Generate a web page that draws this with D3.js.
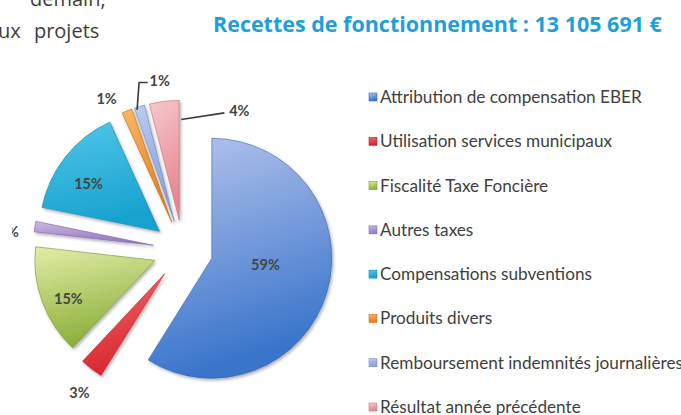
<!DOCTYPE html>
<html>
<head>
<meta charset="utf-8">
<script src="https://cdn.jsdelivr.net/npm/d3@7"></script>
<style>
  html, body { margin: 0; padding: 0; background: #fff; }
  svg { display: block; }
</style>
</head>
<body>
<div id="chart"></div>
<script>
// Chart data
const categories = [
  'Attribution de compensation EBER',
  'Utilisation services municipaux',
  'Fiscalité Taxe Foncière',
  'Autres taxes',
  'Compensations subventions',
  'Produits divers',
  'Remboursement indemnités journalières',
  'Résultat année précédente'
];
const shares = [58.9, 3.1, 14.8, 1.4, 15.0, 1.4, 1.4, 4.0];
const labels = ['59%', '3%', '15%', '1%', '15%', '1%', '1%', '4%'];
const title = 'Recettes de fonctionnement : 13 105 691 €';

// gradient stops per slice (top, bottom)
const colorsTop = ['#b6c5ec', '#f26a6c', '#e2eca8', '#cdb9e4', '#52c6e8', '#f8b866', '#bccbee', '#f7c8cb'];
const colorsBottom = ['#3874cb', '#d9262e', '#8ab038', '#9677c2', '#17a2cf', '#e27e20', '#869fda', '#e68690'];

const width = 681;
const height = 415;
const center = { x: 183, y: 250 };
const radius = 120;
const explode = 30;

// where each label sits, relative to its exploded slice: angle shift (deg) and radius factor
const labelPlace = [
  { da: -9, k: 0.45 },
  { da: -2, k: 1.22 },
  { da: -4, k: 0.79 },
  { da: -3.7, k: 1.21 },
  { da: -5, k: 0.71 },
  { da: -6, k: 1.16 },
  { da: 11, k: 1.18 },
  { da: 36, k: 1.04 }
];

const svg = d3.select('#chart')
  .append('svg')
  .attr('width', width)
  .attr('height', height);

const defs = svg.append('defs');

categories.forEach((c, i) => {
  const g = defs.append('linearGradient')
    .attr('id', `grad${i}`)
    .attr('x1', 0).attr('y1', 0).attr('x2', 0.25).attr('y2', 1);
  g.append('stop').attr('offset', '0%').attr('stop-color', colorsTop[i]);
  g.append('stop').attr('offset', '100%').attr('stop-color', colorsBottom[i]);
});

const shadow = defs.append('filter')
  .attr('id', 'shadow')
  .attr('x', '-20%').attr('y', '-20%')
  .attr('width', '140%').attr('height', '140%');
shadow.append('feDropShadow')
  .attr('dx', 1.5).attr('dy', 2)
  .attr('stdDeviation', 1.8)
  .attr('flood-color', '#000')
  .attr('flood-opacity', 0.3);

// the chart picture was cropped on its left side in the document
defs.append('clipPath').attr('id', 'crop')
  .append('rect')
  .attr('x', 12).attr('y', 50)
  .attr('width', 350).attr('height', height - 50);

// Page text around the chart
svg.append('text')
  .attr('x', 30).attr('y', 6)
  .attr('font-family', 'Open Sans, sans-serif')
  .attr('font-size', 20)
  .attr('fill', '#3d3d3d')
  .text('demain,');

svg.append('text')
  .attr('x', -2).attr('y', 38)
  .attr('font-family', 'Open Sans, sans-serif')
  .attr('font-size', 20)
  .attr('fill', '#3d3d3d')
  .attr('word-spacing', 8)
  .text('ux projets');

const titleText = svg.append('text')
  .attr('x', 213).attr('y', 32)
  .attr('font-family', 'Open Sans, sans-serif')
  .attr('font-weight', 700)
  .attr('font-size', 17)
  .attr('fill', '#1d9fdb')
  .text(title);
// fit the title to the width it has in the document
const titleWidth = titleText.node().getComputedTextLength();
titleText.attr('font-size', 17 * 449 / titleWidth);

// ==== Pie ====
const pie = d3.pie().sort(null).value(d => d);
const arcs = pie(shares);

const arc = d3.arc()
  .innerRadius(0)
  .outerRadius(radius);

const offset = d => {
  const mid = (d.startAngle + d.endAngle) / 2;
  return [explode * Math.sin(mid), -explode * Math.cos(mid)];
};

const polar = (a, r) => [r * Math.sin(a), -r * Math.cos(a)];

const chart = svg.append('g')
  .attr('clip-path', 'url(#crop)')
  .append('g')
  .attr('transform', `translate(${center.x},${center.y})`);

const slices = chart.selectAll('g.slice')
  .data(arcs)
  .join('g')
  .attr('class', 'slice')
  .attr('transform', d => `translate(${offset(d)})`);

slices.append('path')
  .attr('d', arc)
  .attr('fill', (d, i) => `url(#grad${i})`)
  .attr('stroke', (d, i) => d3.color(colorsBottom[i]).darker(0.6))
  .attr('stroke-opacity', 0.55)
  .attr('stroke-width', 1)
  .attr('filter', 'url(#shadow)');

// label positions
const labelPos = (d, i) => {
  const mid = (d.startAngle + d.endAngle) / 2 + labelPlace[i].da * Math.PI / 180;
  const [ox, oy] = offset(d);
  const [px, py] = polar(mid, radius * labelPlace[i].k);
  return [ox + px, oy + py];
};

// leader lines for the two small slices on top
const leaders = [
  {
    i: 6, points: d => {
      const [ox, oy] = offset(d);
      const a = d.startAngle + 0.2 * (d.endAngle - d.startAngle);
      const [sx, sy] = polar(a, radius * 0.98);
      const [lx, ly] = labelPos(d, 6);
      return [[ox + sx, oy + sy], [ox + sx + 2, ly + 2], [lx - 12, ly + 2]];
    }
  },
  {
    i: 7, points: d => {
      const [ox, oy] = offset(d);
      const [sx, sy] = polar(d.endAngle, radius * 0.84);
      const [lx, ly] = labelPos(d, 7);
      return [[ox + sx + 2, oy + sy], [lx - 15, ly + 2]];
    }
  }
];

chart.selectAll('path.leader')
  .data(leaders)
  .join('path')
  .attr('class', 'leader')
  .attr('d', l => d3.line()(l.points(arcs[l.i])))
  .attr('fill', 'none')
  .attr('stroke', '#3a3a3a')
  .attr('stroke-width', 1.6);

chart.selectAll('text.value')
  .data(arcs)
  .join('text')
  .attr('class', 'value')
  .attr('x', (d, i) => labelPos(d, i)[0])
  .attr('y', (d, i) => labelPos(d, i)[1])
  .attr('dy', '0.35em')
  .attr('text-anchor', 'middle')
  .attr('font-family', 'Lato, sans-serif')
  .attr('font-weight', 700)
  .attr('font-size', 14.5)
  .attr('fill', '#454545')
  .text((d, i) => labels[i]);

// ==== Legend ====
const legendY = d3.scalePoint()
  .domain(categories)
  .range([97, 407]);

const legend = svg.append('g')
  .attr('transform', 'translate(369,0)');

const items = legend.selectAll('g')
  .data(categories)
  .join('g')
  .attr('transform', d => `translate(0,${legendY(d)})`);

items.append('rect')
  .attr('x', 0).attr('y', -4)
  .attr('width', 8).attr('height', 8)
  .attr('fill', (d, i) => `url(#grad${i})`)
  .attr('stroke', (d, i) => d3.color(colorsBottom[i]).darker(0.3))
  .attr('stroke-width', 0.6);

const legendText = items.append('text')
  .attr('x', 11)
  .attr('dy', '0.35em')
  .attr('font-family', 'Lato, sans-serif')
  .attr('font-size', 14)
  .attr('fill', '#3f3f3f')
  .text(d => d);

// scale the legend font so the first entry spans its width in the document
const firstWidth = legendText.node().getComputedTextLength();
legendText.attr('font-size', 14 * 262 / firstWidth);
</script>
</body>
</html>
